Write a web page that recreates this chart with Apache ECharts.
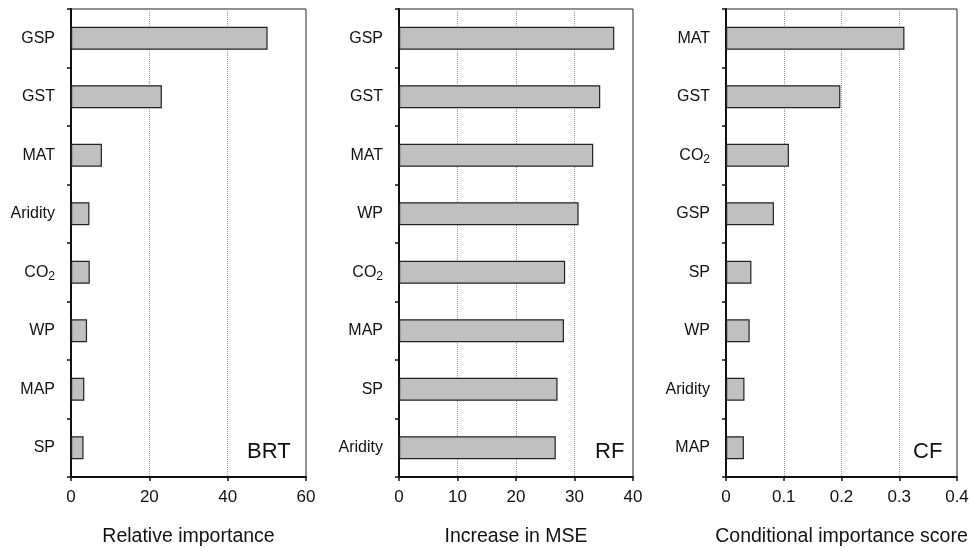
<!DOCTYPE html>
<html><head><meta charset="utf-8">
<script src="https://cdn.jsdelivr.net/npm/echarts@6/dist/echarts.min.js"></script>
<style>html,body{margin:0;padding:0;background:#fff}#c{width:973px;height:548px}</style>
</head><body><div id="c"></div>
<script>
var brtCats = ['GSP','GST','MAT','Aridity','CO2','WP','MAP','SP'];
var brtVals = [50.2, 23.2, 7.9, 4.7, 4.8, 4.1, 3.4, 3.2];
var rfCats = ['GSP','GST','MAT','WP','CO2','MAP','SP','Aridity'];
var rfVals = [36.8, 34.4, 33.2, 30.7, 28.4, 28.2, 27.1, 26.8];
var cfCats = ['MAT','GST','CO2','GSP','SP','WP','Aridity','MAP'];
var cfVals = [0.309, 0.198, 0.109, 0.083, 0.044, 0.041, 0.032, 0.031];
var panelNames = ['BRT','RF','CF'];
var axisNames = ['Relative importance','Increase in MSE','Conditional importance score'];
var xMax = [60, 40, 0.4];
var xInt = [20, 10, 0.1];

var font = 'Liberation Sans, Arial, sans-serif';
var grids = [
  {left: 71, width: 235, top: 9, bottom: 71},
  {left: 399, width: 234, top: 9, bottom: 71},
  {left: 726, width: 231, top: 9, bottom: 71}
];
var catsAll = [brtCats, rfCats, cfCats];
var valsAll = [brtVals, rfVals, cfVals];

function catFmt(v){
  if (v === 'CO2') return '{n|CO}{s|2}';
  return '{n|' + v + '}';
}
var rich = {
  n: {fontSize: 16, color: '#111', fontFamily: font},
  s: {fontSize: 12, color: '#111', fontFamily: font, padding: [8,0,0,0]}
};

var option = {
  animation: false,
  backgroundColor: '#fff',
  grid: grids.map(function(g){ return Object.assign({show: true, borderColor: '#222', borderWidth: 1, backgroundColor: 'transparent', containLabel: false, outerBoundsMode: 'none'}, g); }),
  xAxis: [0,1,2].map(function(i){
    return {
      type: 'value', gridIndex: i, min: 0, max: xMax[i], interval: xInt[i],
      name: axisNames[i], nameLocation: 'middle', nameGap: 50,
      nameTextStyle: {fontSize: 19.5, color: '#111', fontFamily: font},
      axisLine: {show: true, lineStyle: {color: '#111', width: 2}},
      axisTick: {show: true, length: 4, lineStyle: {color: '#111', width: 1.5}},
      axisLabel: {fontSize: 17, color: '#111', fontFamily: font, margin: 12,
        formatter: function(v){ return String(+v.toFixed(2)); }},
      splitLine: {show: true, lineStyle: {color: '#999', type: 'dotted', width: 1}}
    };
  }),
  yAxis: [0,1,2].map(function(i){
    return {
      type: 'category', gridIndex: i, data: catsAll[i], inverse: true,
      axisLine: {show: true, lineStyle: {color: '#111', width: 2}},
      axisTick: {show: true, length: 4, lineStyle: {color: '#111', width: 1.5}},
      axisLabel: {margin: 16, formatter: catFmt, rich: rich},
      splitLine: {show: false}
    };
  }),
  series: [0,1,2].map(function(i){
    return {
      type: 'bar', xAxisIndex: i, yAxisIndex: i, data: valsAll[i],
      barWidth: 23,
      itemStyle: {color: '#c0c0c0', borderColor: '#222', borderWidth: 1.2}
    };
  }),
  graphic: [
    {type: 'text', left: 247, top: 441, style: {text: panelNames[0], fontSize: 22, fill: '#111', fontFamily: font}},
    {type: 'text', left: 595, top: 441, style: {text: panelNames[1], fontSize: 22, fill: '#111', fontFamily: font}},
    {type: 'text', left: 913, top: 441, style: {text: panelNames[2], fontSize: 22, fill: '#111', fontFamily: font}}
  ]
};
echarts.init(document.getElementById('c')).setOption(option);
</script>
</body></html>
